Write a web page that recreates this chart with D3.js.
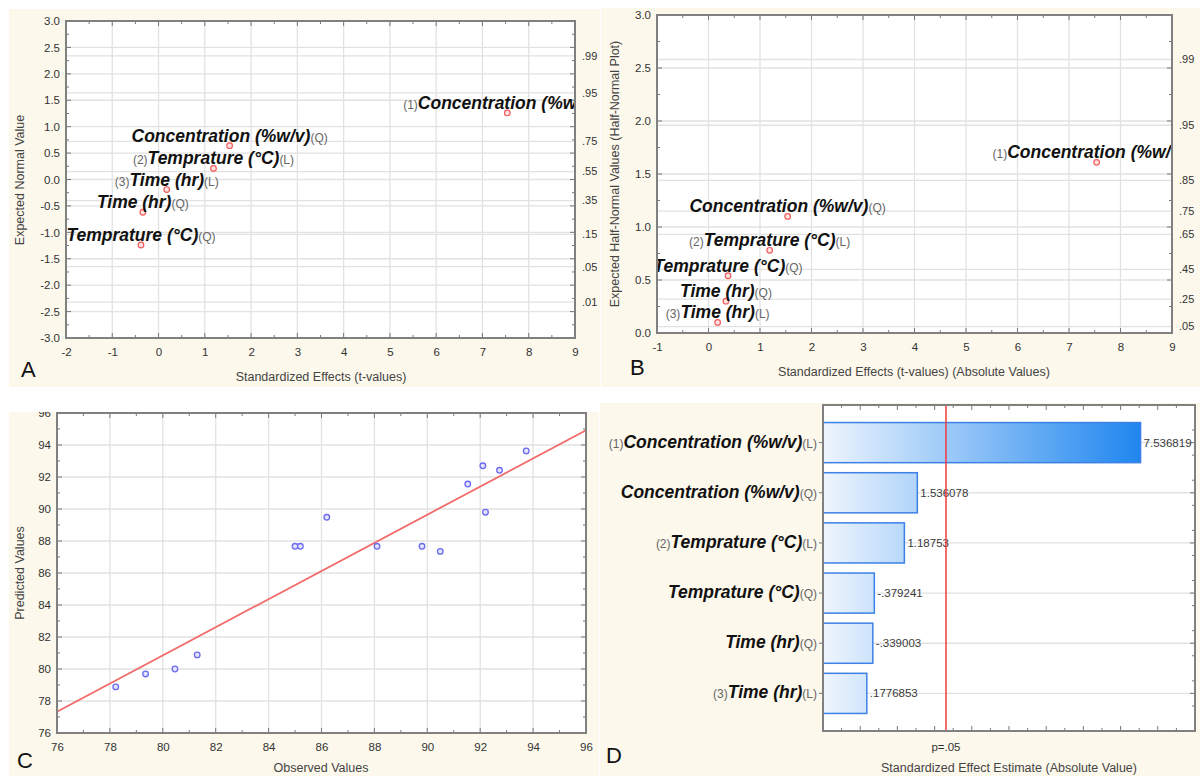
<!DOCTYPE html>
<html>
<head>
<meta charset="utf-8">
<script src="https://cdn.jsdelivr.net/npm/d3@7"></script>
<style>
  body { margin: 0; background: #fff; }
  svg text { font-family: "Liberation Sans", Arial, sans-serif; }
</style>
</head>
<body>
<div id="chart-container"></div>
<script>
// effects, same order in every panel
const effectPrefix = ["(1)", "", "(2)", "", "", "(3)"];
const effectName = ["Concentration (%w/v)", "Concentration (%w/v)", "Temprature (°C)", "Temprature (°C)", "Time (hr)", "Time (hr)"];
const effectSuffix = ["(L)", "(Q)", "(L)", "(Q)", "(Q)", "(L)"];
const effectT = [7.536819, 1.536078, 1.18753, -0.379241, -0.339003, 0.1776853];
const effectText = ["7.536819", "1.536078", "1.18753", "-.379241", "-.339003", ".1776853"];

// A: normal probability plot
const normalExpected = [1.26, 0.64, 0.21, -1.24, -0.62, -0.19];
const normalProbLabels = [".99", ".95", ".75", ".55", ".35", ".15", ".05", ".01"];
const normalProbZ = [2.34, 1.64, 0.72, 0.15, -0.40, -1.04, -1.65, -2.32];

// B: half-normal plot
const halfNormalExpected = [1.61, 1.10, 0.78, 0.54, 0.30, 0.10];
const halfProbLabels = [".99", ".95", ".85", ".75", ".65", ".45", ".25", ".05"];
const halfProbZ = [2.58, 1.96, 1.44, 1.15, 0.93, 0.60, 0.32, 0.06];

// C: observed vs predicted
const observed = [78.22, 79.35, 80.46, 81.3, 85.0, 85.2, 86.2, 88.1, 89.8, 90.49, 91.53, 92.1, 92.2, 92.73, 93.74];
const predicted = [78.88, 79.69, 80.0, 80.88, 87.67, 87.67, 89.48, 87.67, 87.67, 87.35, 91.56, 92.7, 89.8, 92.42, 93.63];
const fitX = [76, 96];
const fitY = [77.33, 94.92];

// D: pareto
const pCritical = 2.306;

const cream = "#fcf8ec";
const gridColor = "#e2e2e2";
const frameColor = "#808080";
const tickFont = 11.5;
const titleFont = 12.5;

const svg = d3.select("#chart-container")
  .append("svg")
  .attr("width", 1200)
  .attr("height", 776)
  .style("display", "block");

const defs = svg.append("defs");

function makePanel(id, box, P) {
  defs.append("clipPath").attr("id", id + "-clip")
    .append("rect").attr("x", box.x).attr("y", box.y).attr("width", box.w).attr("height", box.h);
  defs.append("clipPath").attr("id", id + "-plot")
    .append("rect").attr("x", P.l).attr("y", P.t).attr("width", P.r - P.l).attr("height", P.b - P.t);
  const g = svg.append("g").attr("clip-path", `url(#${id}-clip)`);
  g.append("rect").attr("x", box.x).attr("y", box.y).attr("width", box.w).attr("height", box.h).attr("fill", cream);
  g.append("rect").attr("x", P.l).attr("y", P.t).attr("width", P.r - P.l).attr("height", P.b - P.t).attr("fill", "#fff");
  return g;
}

function frame(g, P) {
  g.append("rect")
    .attr("x", P.l).attr("y", P.t).attr("width", P.r - P.l).attr("height", P.b - P.t)
    .attr("fill", "none").attr("stroke", frameColor).attr("stroke-width", 2);
}

function styleAxis(sel) {
  sel.attr("font-family", null).attr("font-size", tickFont);
  sel.select(".domain").remove();
  sel.selectAll("text").attr("fill", "#333");
}

// inward ticks on all sides
function ticks(g, x, y, P, xMajor, xMinor, yMajor, yMinor) {
  const t = g.append("g").attr("stroke", "#777").attr("stroke-width", 1);
  [[xMajor, 5], [xMinor, 3]].forEach(([vals, len]) => {
    vals.forEach(v => {
      t.append("line").attr("x1", x(v)).attr("x2", x(v)).attr("y1", P.b).attr("y2", P.b - len);
      t.append("line").attr("x1", x(v)).attr("x2", x(v)).attr("y1", P.t).attr("y2", P.t + len);
    });
  });
  [[yMajor, 5], [yMinor, 3]].forEach(([vals, len]) => {
    vals.forEach(v => {
      t.append("line").attr("y1", y(v)).attr("y2", y(v)).attr("x1", P.l).attr("x2", P.l + len);
      t.append("line").attr("y1", y(v)).attr("y2", y(v)).attr("x1", P.r).attr("x2", P.r - len);
    });
  });
}

function effectLabel(sel, i, size) {
  sel.append("tspan").text(effectPrefix[i])
    .attr("font-size", 12).attr("fill", "#666");
  sel.append("tspan").text(effectName[i])
    .attr("font-size", size).attr("font-weight", "bold").attr("font-style", "italic").attr("fill", "#111");
  sel.append("tspan").text(effectSuffix[i])
    .attr("font-size", 12).attr("fill", "#666");
}

// labels that run past the plot edge get cut off there, like the original
function cutAtEdge(textSel, maxX) {
  const node = textSel.node();
  const box = node.getBBox();
  if (box.x + box.width <= maxX) return;
  textSel.attr("text-anchor", "start").attr("x", box.x);
  const spans = Array.from(node.querySelectorAll("tspan"));
  let k = spans.length - 1;
  while (k >= 0) {
    const b = node.getBBox();
    if (b.x + b.width <= maxX) break;
    if (!spans[k].textContent.length) { k--; continue; }
    spans[k].textContent = spans[k].textContent.slice(0, -1);
  }
}

function axisTitle(g, text, x, y, rotate) {
  const t = g.append("text").text(text)
    .attr("font-size", titleFont).attr("fill", "#444").attr("text-anchor", "middle");
  if (rotate) t.attr("transform", `translate(${x},${y}) rotate(-90)`);
  else t.attr("x", x).attr("y", y);
}

function panelLetter(g, letter, x, y) {
  g.append("text").text(letter).attr("x", x).attr("y", y)
    .attr("font-size", 22).attr("fill", "#111");
}

// ---------- A ----------
{
  const P = { l: 66, r: 575, t: 21, b: 338 };
  const g = makePanel("A", { x: 9, y: 9, w: 591, h: 378 }, P);
  const x = d3.scaleLinear().domain([-2, 9]).range([P.l, P.r]);
  const y = d3.scaleLinear().domain([-3, 3]).range([P.b, P.t]);

  const grid = g.append("g").attr("stroke", gridColor).attr("stroke-width", 1.3);
  d3.range(-1, 9).forEach(v => grid.append("line").attr("x1", x(v)).attr("x2", x(v)).attr("y1", P.t).attr("y2", P.b));
  d3.range(-2.5, 3, 0.5).concat(normalProbZ).forEach(v =>
    grid.append("line").attr("y1", y(v)).attr("y2", y(v)).attr("x1", P.l).attr("x2", P.r));

  ticks(g, x, y, P, d3.range(-2, 10), d3.range(-1.5, 9, 1),
    d3.range(-3, 3.01, 0.5), d3.range(-2.75, 3, 0.5));

  g.append("g").attr("transform", `translate(0,${P.b})`)
    .call(d3.axisBottom(x).tickValues(d3.range(-2, 10)).tickFormat(d => d).tickSize(0).tickPadding(10))
    .call(styleAxis);
  g.append("g").attr("transform", `translate(${P.l},0)`)
    .call(d3.axisLeft(y).tickValues(d3.range(-3, 3.01, 0.5)).tickFormat(d => d.toFixed(1)).tickSize(0).tickPadding(6))
    .call(styleAxis);

  g.selectAll(".probA").data(normalProbLabels).join("text")
    .attr("x", P.r + 7).attr("y", (d, i) => y(normalProbZ[i])).attr("dy", "0.35em")
    .attr("font-size", 11).attr("fill", "#333").text(d => d);

  const inner = g.append("g").attr("clip-path", "url(#A-plot)");
  effectT.forEach((v, i) => {
    inner.append("circle").attr("cx", x(v)).attr("cy", y(normalExpected[i])).attr("r", 2.8)
      .attr("fill", "#ffe2e2").attr("stroke", "#f25a5a").attr("stroke-width", 1.2);
    inner.append("text").attr("x", x(v)).attr("y", y(normalExpected[i]) - 4)
      .attr("text-anchor", "middle").call(s => effectLabel(s, i, 17.5))
      .call(s => cutAtEdge(s, P.r + 5));
  });

  frame(g, P);
  axisTitle(g, "Expected Normal Value", 24, 180, true);
  axisTitle(g, "Standardized Effects (t-values)", 321, 381);
  panelLetter(g, "A", 21, 377);
}

// ---------- B ----------
{
  const P = { l: 657, r: 1172, t: 15, b: 333 };
  const g = makePanel("B", { x: 601, y: 8, w: 599, h: 379 }, P);
  const x = d3.scaleLinear().domain([-1, 9]).range([P.l, P.r]);
  const y = d3.scaleLinear().domain([0, 3]).range([P.b, P.t]);

  const grid = g.append("g").attr("stroke", gridColor).attr("stroke-width", 1.3);
  d3.range(0, 9).forEach(v => grid.append("line").attr("x1", x(v)).attr("x2", x(v)).attr("y1", P.t).attr("y2", P.b));
  d3.range(0.5, 3, 0.5).concat(halfProbZ).forEach(v =>
    grid.append("line").attr("y1", y(v)).attr("y2", y(v)).attr("x1", P.l).attr("x2", P.r));

  ticks(g, x, y, P, d3.range(-1, 10), d3.range(-0.5, 9, 1),
    d3.range(0, 3.01, 0.5), d3.range(0.25, 3, 0.5));

  g.append("g").attr("transform", `translate(0,${P.b})`)
    .call(d3.axisBottom(x).tickValues(d3.range(-1, 10)).tickFormat(d => d).tickSize(0).tickPadding(10))
    .call(styleAxis);
  g.append("g").attr("transform", `translate(${P.l},0)`)
    .call(d3.axisLeft(y).tickValues(d3.range(0, 3.01, 0.5)).tickFormat(d => d.toFixed(1)).tickSize(0).tickPadding(6))
    .call(styleAxis);

  g.selectAll(".probB").data(halfProbLabels).join("text")
    .attr("x", P.r + 7).attr("y", (d, i) => y(halfProbZ[i])).attr("dy", "0.35em")
    .attr("font-size", 11).attr("fill", "#333").text(d => d);

  const inner = g.append("g").attr("clip-path", "url(#B-plot)");
  effectT.forEach((v, i) => {
    const a = Math.abs(v);
    inner.append("circle").attr("cx", x(a)).attr("cy", y(halfNormalExpected[i])).attr("r", 2.8)
      .attr("fill", "#ffe2e2").attr("stroke", "#f25a5a").attr("stroke-width", 1.2);
    inner.append("text").attr("x", x(a)).attr("y", y(halfNormalExpected[i]) - 4)
      .attr("text-anchor", "middle").call(s => effectLabel(s, i, 17.5))
      .call(s => cutAtEdge(s, P.r + 5));
  });

  frame(g, P);
  axisTitle(g, "Expected Half-Normal Values (Half-Normal Plot)", 619, 174, true);
  axisTitle(g, "Standardized Effects (t-values) (Absolute Values)", 914, 376);
  panelLetter(g, "B", 630, 375);
}

// ---------- C ----------
{
  const P = { l: 57, r: 586, t: 413, b: 733 };
  const g = makePanel("C", { x: 9, y: 412, w: 590, h: 364 }, P);
  const x = d3.scaleLinear().domain([76, 96]).range([P.l, P.r]);
  const y = d3.scaleLinear().domain([76, 96]).range([P.b, P.t]);

  const grid = g.append("g").attr("stroke", gridColor).attr("stroke-width", 1.3);
  d3.range(78, 96, 2).forEach(v => {
    grid.append("line").attr("x1", x(v)).attr("x2", x(v)).attr("y1", P.t).attr("y2", P.b);
    grid.append("line").attr("y1", y(v)).attr("y2", y(v)).attr("x1", P.l).attr("x2", P.r);
  });

  ticks(g, x, y, P, d3.range(76, 97, 2), d3.range(77, 96, 2), d3.range(76, 97, 2), d3.range(77, 96, 2));

  g.append("g").attr("transform", `translate(0,${P.b})`)
    .call(d3.axisBottom(x).tickValues(d3.range(76, 97, 2)).tickSize(0).tickPadding(10))
    .call(styleAxis);
  g.append("g").attr("transform", `translate(${P.l},0)`)
    .call(d3.axisLeft(y).tickValues(d3.range(76, 97, 2)).tickSize(0).tickPadding(6))
    .call(styleAxis);

  const inner = g.append("g").attr("clip-path", "url(#C-plot)");
  inner.append("path")
    .datum(fitX.map((d, i) => [d, fitY[i]]))
    .attr("d", d3.line().x(d => x(d[0])).y(d => y(d[1])))
    .attr("fill", "none").attr("stroke", "#f26a6a").attr("stroke-width", 1.8);
  inner.selectAll("circle").data(observed).join("circle")
    .attr("cx", d => x(d)).attr("cy", (d, i) => y(predicted[i])).attr("r", 2.8)
    .attr("fill", "#e4e4ff").attr("stroke", "#6b6bf2").attr("stroke-width", 1.3);

  frame(g, P);
  axisTitle(g, "Predicted Values", 24, 573, true);
  axisTitle(g, "Observed Values", 321, 772);
  panelLetter(g, "C", 17, 768);
}

// ---------- D ----------
{
  const P = { l: 823, r: 1195, t: 405, b: 731 };
  const g = makePanel("D", { x: 600, y: 403, w: 600, h: 373 }, P);
  const x = d3.scaleLinear().domain([-1, 9]).range([P.l, P.r]);
  const y = d3.scaleBand().domain(d3.range(effectT.length)).range([P.t, P.b])
    .paddingInner(0.2).paddingOuter(0.35);
  const yc = i => y(i) + y.bandwidth() / 2;

  const grad = defs.append("linearGradient").attr("id", "barGrad")
    .attr("gradientUnits", "userSpaceOnUse")
    .attr("x1", x(-1)).attr("x2", x(d3.max(effectT, Math.abs))).attr("y1", 0).attr("y2", 0);
  grad.append("stop").attr("offset", 0).attr("stop-color", "#eef5fd");
  grad.append("stop").attr("offset", 1).attr("stop-color", "#1f86ef");

  const grid = g.append("g").attr("stroke", gridColor).attr("stroke-width", 1.3);
  effectT.forEach((v, i) => grid.append("line").attr("y1", yc(i)).attr("y2", yc(i)).attr("x1", P.l).attr("x2", P.r));

  // ticks top / bottom and sides
  const t = g.append("g").attr("stroke", "#777");
  d3.range(-1, 9.01, 1).forEach(v => {
    t.append("line").attr("x1", x(v)).attr("x2", x(v)).attr("y1", P.b).attr("y2", P.b - 5);
    t.append("line").attr("x1", x(v)).attr("x2", x(v)).attr("y1", P.t).attr("y2", P.t + 5);
  });
  d3.range(-0.5, 9, 1).forEach(v => {
    t.append("line").attr("x1", x(v)).attr("x2", x(v)).attr("y1", P.b).attr("y2", P.b - 3);
    t.append("line").attr("x1", x(v)).attr("x2", x(v)).attr("y1", P.t).attr("y2", P.t + 3);
  });
  effectT.forEach((v, i) => {
    t.append("line").attr("y1", yc(i)).attr("y2", yc(i)).attr("x1", P.r).attr("x2", P.r - 5);
    t.append("line").attr("y1", yc(i)).attr("y2", yc(i)).attr("x1", P.l).attr("x2", P.l - 4);
    [-0.25, 0.25].forEach(f => {
      const yy = yc(i) + f * y.step();
      t.append("line").attr("y1", yy).attr("y2", yy).attr("x1", P.r).attr("x2", P.r - 3);
    });
  });

  g.selectAll(".bar").data(effectT).join("rect")
    .attr("x", x(-1))
    .attr("y", (d, i) => y(i))
    .attr("width", d => x(Math.abs(d)) - x(-1))
    .attr("height", y.bandwidth())
    .attr("fill", "url(#barGrad)")
    .attr("stroke", "#3d80e6").attr("stroke-width", 1.5);

  g.selectAll(".val").data(effectT).join("text")
    .attr("x", d => x(Math.abs(d)) + 3)
    .attr("y", (d, i) => yc(i)).attr("dy", "0.35em")
    .attr("font-size", 11.5).attr("fill", "#3a3a3a")
    .text((d, i) => effectText[i]);

  g.append("line").attr("x1", x(pCritical)).attr("x2", x(pCritical)).attr("y1", P.t).attr("y2", P.b)
    .attr("stroke", "#f03a3a").attr("stroke-width", 1.5);
  g.append("text").attr("x", x(pCritical)).attr("y", 751).attr("text-anchor", "middle")
    .attr("font-size", tickFont).attr("fill", "#333").text("p=.05");

  effectT.forEach((v, i) => {
    g.append("text").attr("x", P.l - 6).attr("y", yc(i) + 5)
      .attr("text-anchor", "end").call(s => effectLabel(s, i, 17.5));
  });

  frame(g, P);
  axisTitle(g, "Standardized Effect Estimate (Absolute Value)", 1009, 772);
  panelLetter(g, "D", 606, 763);
}
</script>
</body>
</html>
